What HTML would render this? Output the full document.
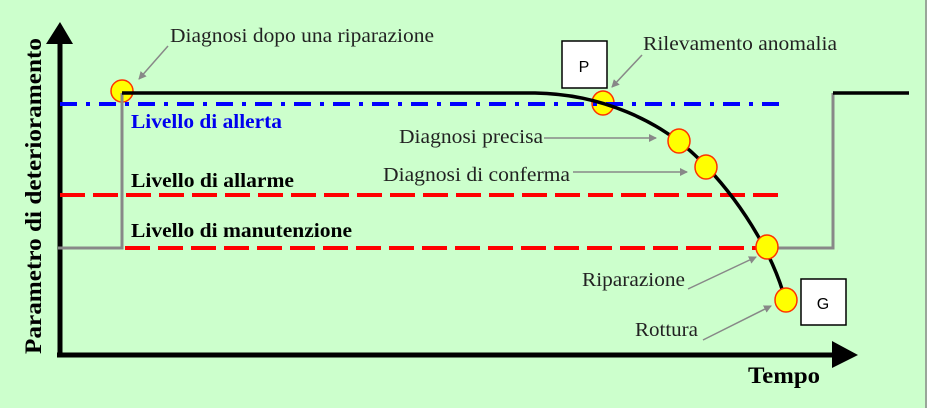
<!DOCTYPE html>
<html><head><meta charset="utf-8"><style>
html,body{margin:0;padding:0;background:#ccffcc;}
svg{display:block;}
text{font-family:"Liberation Serif",serif;}
</style></head><body>
<svg width="927" height="408" viewBox="0 0 927 408">
<rect x="0" y="0" width="927" height="408" fill="#ccffcc"/>
<line x1="926" y1="0" x2="926" y2="408" stroke="#888" stroke-width="1.5"/>
<defs>
<marker id="ga" markerWidth="8" markerHeight="8" refX="7" refY="4" orient="auto" markerUnits="userSpaceOnUse"><path d="M0,0 L8,4 L0,8 Z" fill="#888"/></marker>
</defs>
<circle cx="122" cy="91" r="11" fill="#ffff00" stroke="#ff3300" stroke-width="1.5"/>
<ellipse cx="603" cy="103" rx="11" ry="12" fill="#ffff00" stroke="#ff3300" stroke-width="1.5"/>
<line x1="60" y1="40" x2="60" y2="357" stroke="#000" stroke-width="5"/>
<polygon points="46,44 60,22 73,44" fill="#000"/>
<line x1="57" y1="355" x2="835" y2="355" stroke="#000" stroke-width="5"/>
<polygon points="832,341 858,355 832,368" fill="#000"/>
<line x1="60" y1="104" x2="785" y2="104" stroke="#0000ff" stroke-width="4" stroke-dasharray="17,9,4,9"/>
<line x1="60" y1="195" x2="785" y2="195" stroke="#ff0000" stroke-width="4" stroke-dasharray="25,8"/>
<line x1="125" y1="248" x2="768" y2="248" stroke="#ff0000" stroke-width="4" stroke-dasharray="25,8"/>
<polyline points="58,248 122,248 122,93" fill="none" stroke="#888" stroke-width="3"/>
<polyline points="767,248 833,248 833,93" fill="none" stroke="#888" stroke-width="3"/>
<line x1="833" y1="93" x2="909" y2="93" stroke="#000" stroke-width="3.5"/>
<path d="M122,93 L535,93 C600,94 660,120 700,160 C740,200 770,250 783,292" fill="none" stroke="#000" stroke-width="3.5"/>
<ellipse cx="679" cy="141" rx="11" ry="12" fill="#ffff00" stroke="#ff3300" stroke-width="1.5"/>
<ellipse cx="706" cy="167" rx="11" ry="12" fill="#ffff00" stroke="#ff3300" stroke-width="1.5"/>
<ellipse cx="767" cy="247" rx="11" ry="12" fill="#ffff00" stroke="#ff3300" stroke-width="1.5"/>
<ellipse cx="786" cy="300" rx="11" ry="12" fill="#ffff00" stroke="#ff3300" stroke-width="1.5"/>
<rect x="562" y="41" width="45" height="47" fill="#fff" stroke="#000" stroke-width="1.5"/>
<text x="584" y="72" font-size="16" text-anchor="middle" style="font-family:'Liberation Sans',sans-serif">P</text>
<rect x="801" y="279" width="45" height="46" fill="#fff" stroke="#000" stroke-width="1.5"/>
<text x="823" y="309" font-size="16" text-anchor="middle" style="font-family:'Liberation Sans',sans-serif">G</text>
<g stroke="#888" stroke-width="1.5" fill="none" marker-end="url(#ga)">
<line x1="168" y1="46" x2="139" y2="79"/>
<line x1="642" y1="55" x2="612" y2="87"/>
<line x1="544" y1="138" x2="656" y2="138"/>
<line x1="573" y1="172" x2="687" y2="172"/>
<line x1="688" y1="289" x2="756" y2="257"/>
<line x1="703" y1="340" x2="771" y2="306"/>
</g>
<g font-size="20" fill="#222" lengthAdjust="spacingAndGlyphs">
<text x="170" y="42" textLength="264" lengthAdjust="spacingAndGlyphs">Diagnosi dopo una riparazione</text>
<text x="643" y="50" textLength="194" lengthAdjust="spacingAndGlyphs">Rilevamento anomalia</text>
<text x="399" y="143" textLength="144" lengthAdjust="spacingAndGlyphs">Diagnosi precisa</text>
<text x="383" y="181" textLength="187" lengthAdjust="spacingAndGlyphs">Diagnosi di conferma</text>
<text x="582" y="286" textLength="103" lengthAdjust="spacingAndGlyphs">Riparazione</text>
<text x="635" y="336" textLength="63" lengthAdjust="spacingAndGlyphs">Rottura</text>
</g>
<g font-size="20" font-weight="bold">
<text x="131" y="128" fill="#0000ee" textLength="151" lengthAdjust="spacingAndGlyphs">Livello di allerta</text>
<text x="131" y="187" fill="#000" textLength="163" lengthAdjust="spacingAndGlyphs">Livello di allarme</text>
<text x="131" y="237" fill="#000" textLength="221" lengthAdjust="spacingAndGlyphs">Livello di manutenzione</text>
<text x="748" y="383" fill="#000" font-size="23" textLength="72" lengthAdjust="spacingAndGlyphs">Tempo</text>
<text transform="translate(41,196) rotate(-90)" text-anchor="middle" font-size="23" fill="#000" textLength="316" lengthAdjust="spacingAndGlyphs">Parametro   di deterioramento</text>
</g>
</svg>
</body></html>
